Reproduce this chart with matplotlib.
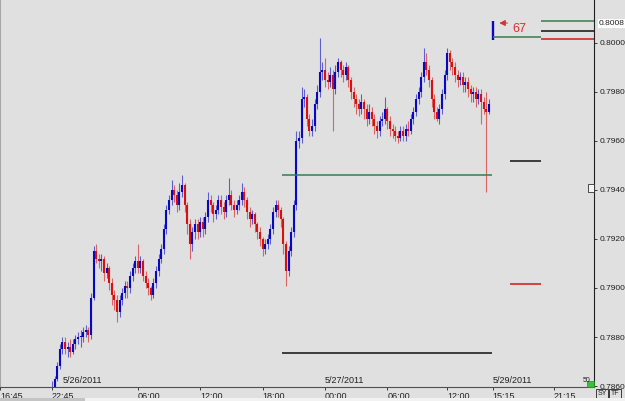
import matplotlib
matplotlib.use("Agg")
import matplotlib.pyplot as plt
import matplotlib.transforms as mtransforms
from matplotlib.patches import Rectangle

# ---------------- data (15-minute bars) ----------------
opens = [0.7856, 0.7859, 0.7863, 0.7868, 0.7875, 0.7878, 0.7875, 0.7876, 0.7874, 0.7877,
         0.7879, 0.7880, 0.7880, 0.7882, 0.7883, 0.7881, 0.7896, 0.7915, 0.7912, 0.7911,
         0.7912, 0.7906, 0.7908, 0.7902, 0.7897, 0.7895, 0.7890, 0.7895, 0.7898, 0.7901,
         0.7900, 0.7905, 0.7908, 0.7911, 0.7908, 0.7911, 0.7905, 0.7902, 0.7900, 0.7897,
         0.7902, 0.7907, 0.7912, 0.7916, 0.7924, 0.7932, 0.7936, 0.7940, 0.7938, 0.7934,
         0.7939, 0.7942, 0.7934, 0.7926, 0.7918, 0.7923, 0.7926, 0.7923, 0.7927, 0.7924,
         0.7929, 0.7936, 0.7934, 0.7930, 0.7932, 0.7936, 0.7933, 0.7931, 0.7936, 0.7938,
         0.7934, 0.7932, 0.7934, 0.7936, 0.7939, 0.7936, 0.7931, 0.7928, 0.7930, 0.7926,
         0.7923, 0.7920, 0.7916, 0.7918, 0.7920, 0.7924, 0.7931, 0.7934, 0.7932, 0.7928,
         0.7918, 0.7907, 0.7915, 0.7923, 0.7934, 0.7960, 0.7961, 0.7977, 0.7978, 0.7969,
         0.7964, 0.7966, 0.7975, 0.7980, 0.7988, 0.7989, 0.7985, 0.7984, 0.7987, 0.7981,
         0.7988, 0.7992, 0.7989, 0.7987, 0.7990, 0.7985, 0.7980, 0.7977, 0.7975, 0.7973,
         0.7976, 0.7973, 0.7969, 0.7972, 0.7969, 0.7966, 0.7964, 0.7968, 0.7969, 0.7973,
         0.7968, 0.7965, 0.7964, 0.7962, 0.7961, 0.7964, 0.7962, 0.7965, 0.7964, 0.7969,
         0.7972, 0.7977, 0.7980, 0.7986, 0.7992, 0.7989, 0.7985, 0.7977, 0.7972, 0.7969,
         0.7973, 0.7979, 0.7987, 0.7996, 0.7992, 0.7990, 0.7987, 0.7985, 0.7986, 0.7983,
         0.7984, 0.7981, 0.7979, 0.7980, 0.7977, 0.7979, 0.7976, 0.7973, 0.7972]
highs = [0.7862, 0.7864, 0.7870, 0.7877, 0.7880, 0.7880, 0.7878, 0.7879, 0.7879, 0.7881,
         0.7882, 0.7883, 0.7884, 0.7885, 0.7884, 0.7898, 0.7917, 0.7918, 0.7914, 0.7914,
         0.7913, 0.7910, 0.7909, 0.7904, 0.7899, 0.7897, 0.7897, 0.7900, 0.7903, 0.7903,
         0.7907, 0.7910, 0.7913, 0.7918, 0.7913, 0.7912, 0.7907, 0.7904, 0.7901, 0.7904,
         0.7909, 0.7914, 0.7918, 0.7926, 0.7934, 0.7938, 0.7944, 0.7942, 0.7940, 0.7943,
         0.7946, 0.7943, 0.7935, 0.7928, 0.7925, 0.7928, 0.7928, 0.7929, 0.7929, 0.7931,
         0.7939, 0.7938, 0.7935, 0.7934, 0.7938, 0.7938, 0.7935, 0.7938, 0.7945, 0.7940,
         0.7936, 0.7936, 0.7938, 0.7943, 0.7941, 0.7937, 0.7933, 0.7932, 0.7931, 0.7927,
         0.7925, 0.7921, 0.7920, 0.7922, 0.7926, 0.7933, 0.7936, 0.7936, 0.7933, 0.7929,
         0.7919, 0.7917, 0.7925, 0.7936, 0.7964, 0.7964, 0.7982, 0.7981, 0.7979, 0.7971,
         0.7969, 0.7977, 0.7983, 0.8002, 0.7992, 0.7994, 0.7988, 0.7990, 0.7989, 0.7991,
         0.7994, 0.7993, 0.7991, 0.7992, 0.7991, 0.7986, 0.7982, 0.7979, 0.7977, 0.7979,
         0.7977, 0.7975, 0.7975, 0.7974, 0.7971, 0.7968, 0.7970, 0.7972, 0.7978, 0.7974,
         0.7970, 0.7967, 0.7966, 0.7964, 0.7966, 0.7966, 0.7967, 0.7968, 0.7971, 0.7974,
         0.7979, 0.7982, 0.7988, 0.7998, 0.7996, 0.7991, 0.7986, 0.7979, 0.7974, 0.7975,
         0.7981, 0.7989, 0.7998, 0.7997, 0.7994, 0.7992, 0.7989, 0.7988, 0.7988, 0.7986,
         0.7986, 0.7983, 0.7982, 0.7982, 0.7981, 0.7981, 0.7978, 0.7980, 0.7977]
lows = [0.7850, 0.7857, 0.7862, 0.7867, 0.7873, 0.7873, 0.7872, 0.7872, 0.7873, 0.7875,
        0.7877, 0.7876, 0.7878, 0.7880, 0.7878, 0.7879, 0.7895, 0.7910, 0.7908, 0.7907,
        0.7903, 0.7904, 0.7899, 0.7893, 0.7891, 0.7886, 0.7888, 0.7893, 0.7896, 0.7896,
        0.7898, 0.7903, 0.7906, 0.7906, 0.7906, 0.7903, 0.7900, 0.7897, 0.7895, 0.7896,
        0.7900, 0.7905, 0.7910, 0.7914, 0.7922, 0.7930, 0.7934, 0.7935, 0.7931, 0.7932,
        0.7937, 0.7931, 0.7922, 0.7912, 0.7915, 0.7920, 0.7920, 0.7921, 0.7921, 0.7922,
        0.7927, 0.7931, 0.7927, 0.7928, 0.7930, 0.7930, 0.7928, 0.7929, 0.7934, 0.7932,
        0.7929, 0.7930, 0.7932, 0.7934, 0.7933, 0.7928, 0.7925, 0.7926, 0.7923, 0.7920,
        0.7917, 0.7913, 0.7914, 0.7916, 0.7918, 0.7922, 0.7929, 0.7929, 0.7925, 0.7914,
        0.7901, 0.7905, 0.7913, 0.7921, 0.7932, 0.7957, 0.7959, 0.7974, 0.7966, 0.7962,
        0.7962, 0.7964, 0.7973, 0.7978, 0.7985, 0.7982, 0.7981, 0.7982, 0.7964, 0.7979,
        0.7986, 0.7986, 0.7984, 0.7985, 0.7982, 0.7977, 0.7974, 0.7971, 0.7970, 0.7971,
        0.7969, 0.7966, 0.7967, 0.7966, 0.7963, 0.7961, 0.7962, 0.7966, 0.7967, 0.7965,
        0.7962, 0.7961, 0.7960, 0.7959, 0.7960, 0.7960, 0.7960, 0.7962, 0.7963, 0.7967,
        0.7970, 0.7975, 0.7978, 0.7984, 0.7987, 0.7982, 0.7974, 0.7969, 0.7968, 0.7967,
        0.7971, 0.7977, 0.7985, 0.7989, 0.7987, 0.7984, 0.7982, 0.7983, 0.7980, 0.7980,
        0.7978, 0.7976, 0.7976, 0.7974, 0.7975, 0.7967, 0.7971, 0.7939, 0.7971]
closes = [0.7859, 0.7863, 0.7868, 0.7875, 0.7878, 0.7875, 0.7876, 0.7874, 0.7877, 0.7879,
          0.7880, 0.7880, 0.7882, 0.7883, 0.7881, 0.7896, 0.7915, 0.7912, 0.7911, 0.7912,
          0.7906, 0.7908, 0.7902, 0.7897, 0.7895, 0.7890, 0.7895, 0.7898, 0.7901, 0.7900,
          0.7905, 0.7908, 0.7911, 0.7908, 0.7911, 0.7905, 0.7902, 0.7900, 0.7897, 0.7902,
          0.7907, 0.7912, 0.7916, 0.7924, 0.7932, 0.7936, 0.7940, 0.7938, 0.7934, 0.7939,
          0.7942, 0.7934, 0.7926, 0.7918, 0.7923, 0.7926, 0.7923, 0.7927, 0.7924, 0.7929,
          0.7936, 0.7934, 0.7930, 0.7932, 0.7936, 0.7933, 0.7931, 0.7936, 0.7938, 0.7934,
          0.7932, 0.7934, 0.7936, 0.7939, 0.7936, 0.7931, 0.7928, 0.7930, 0.7926, 0.7923,
          0.7920, 0.7916, 0.7918, 0.7920, 0.7924, 0.7931, 0.7934, 0.7932, 0.7928, 0.7918,
          0.7907, 0.7915, 0.7923, 0.7934, 0.7960, 0.7961, 0.7977, 0.7978, 0.7969, 0.7964,
          0.7966, 0.7975, 0.7980, 0.7988, 0.7989, 0.7985, 0.7984, 0.7987, 0.7981, 0.7988,
          0.7992, 0.7989, 0.7987, 0.7990, 0.7985, 0.7980, 0.7977, 0.7975, 0.7973, 0.7976,
          0.7973, 0.7969, 0.7972, 0.7969, 0.7966, 0.7964, 0.7968, 0.7969, 0.7973, 0.7968,
          0.7965, 0.7964, 0.7962, 0.7961, 0.7964, 0.7962, 0.7965, 0.7964, 0.7969, 0.7972,
          0.7977, 0.7980, 0.7986, 0.7992, 0.7989, 0.7985, 0.7977, 0.7972, 0.7969, 0.7973,
          0.7979, 0.7987, 0.7996, 0.7992, 0.7990, 0.7987, 0.7985, 0.7986, 0.7983, 0.7984,
          0.7981, 0.7979, 0.7980, 0.7977, 0.7979, 0.7976, 0.7973, 0.7972, 0.7975]

# first bar of the new week (5/29 15:15)
new_week_index = 169.5
new_week_ohlc = [0.8002, 0.8009, 0.8001, 0.8008]

time_tick_pos = [-20, 0, 33, 57, 81, 105, 129, 152, 169.5, 193]
time_tick_labels = ["16:45", "22:45", "06:00", "12:00", "18:00", "00:00",
                    "06:00", "12:00", "15:15", "21:15"]
date_pos = [4, 105, 169.5]
date_labels = ["5/26/2011", "5/27/2011", "5/29/2011"]
price_ticks = [0.7860, 0.7880, 0.7900, 0.7920, 0.7940, 0.7960, 0.7980, 0.8000]
current_price = 0.8008

# horizontal levels: price, start bar, end bar, colour
level_prices = [0.7946, 0.78735, 0.7952, 0.79015, 0.8009, 0.8005, 0.80016, 0.80025]
level_starts = [88.5, 88.5, 176.2, 176.2, 188.1, 188.1, 188.1, 169.6]
level_ends = [169.2, 169.2, 188.1, 188.1, 209, 209, 209, 188.1]
level_colors = ["#2f7f4f", "#101010", "#101010", "#d01818",
                "#2f7f4f", "#101010", "#d01818", "#2f7f4f"]
pip_label = "67"

# ---------------- figure ----------------
W, H = 625, 401
BG = "#e0e0e0"
plt.rcParams["font.family"] = ["Liberation Sans", "DejaVu Sans"]
fig = plt.figure(figsize=(W / 100, H / 100), dpi=100, facecolor=BG)
ax = fig.add_axes([0, 14 / H, 594 / W, 387 / H], facecolor=BG)

UP = "#0808c0"
DN = "#d81010"
for i in range(len(closes)):
    o, h, l, c = opens[i], highs[i], lows[i], closes[i]
    col = UP if c >= o else DN
    ax.vlines(i, l, h, color=col, lw=0.8, alpha=0.6)
    lo, hi = min(o, c), max(o, c)
    if hi - lo < 0.00004:
        hi = lo + 0.00004
    ax.vlines(i, lo, hi, color=col, lw=1.5)

o, h, l, c = new_week_ohlc
ax.vlines(new_week_index, l, h, color=UP, lw=1.7)

for p, x0, x1, col in zip(level_prices, level_starts, level_ends, level_colors):
    ax.hlines(p, x0, x1, color=col, lw=1.1, clip_on=False)

# arrow + pip count
ax.annotate("", xy=(171.0, 0.80081), xytext=(176.3, 0.80081),
            arrowprops=dict(arrowstyle="-|>,head_length=0.35,head_width=0.18",
                        color="#d83030", lw=0.7))
ax.text(177.0, 0.80058, pip_label, color="#d83030", fontsize=9,
        ha="left", va="center", fontweight="light")

ax.set_xlim(-20, 208.46)
ax.set_ylim(0.78596, 0.80175)

ax.spines["top"].set_visible(False)
ax.spines["left"].set_color("#a8a8a8")
ax.spines["left"].set_linewidth(0.8)
ax.spines["right"].set_color("#202020")
ax.spines["right"].set_linewidth(0.8)
ax.spines["bottom"].set_color("#505050")
ax.spines["bottom"].set_linewidth(0.8)

ax.yaxis.tick_right()
ax.set_yticks(price_ticks)
ax.set_yticklabels([f"{p:.4f}" for p in price_ticks])
ax.tick_params(axis="y", length=2.5, width=0.6, pad=1.5, labelsize=6.0,
               colors="#202020")

ax.set_xticks(time_tick_pos)
ax.set_xticklabels(time_tick_labels)
for lab in ax.get_xticklabels():
    lab.set_ha("left")
ax.tick_params(axis="x", length=2.5, width=0.6, pad=1.2, labelsize=6.5,
               colors="#202020")

trans = mtransforms.blended_transform_factory(ax.transData, ax.transAxes)
for p, lab in zip(date_pos, date_labels):
    ax.text(p, 0.005, lab, transform=trans, fontsize=6.5, ha="left",
            va="bottom", color="#202020")

# current price label box
transy = mtransforms.blended_transform_factory(ax.transAxes, ax.transData)
ax.text(1.0085, current_price, f"{current_price:.4f}", transform=transy,
        fontsize=6.0, ha="left", va="center", color="#202020",
        bbox=dict(facecolor="white", edgecolor="none", pad=0.8), clip_on=False)

# small widgets drawn in figure pixel coordinates
def fig_rect(x, y, w, h, **kw):
    fig.patches.append(Rectangle((x / W, 1 - (y + h) / H), w / W, h / H,
                                 transform=fig.transFigure, **kw))

fig_rect(588, 184, 6, 8, facecolor="#f4f4f4", edgecolor="#303030", lw=0.6)
fig_rect(587, 381, 7, 6, facecolor="#3cc03c", edgecolor="#209020", lw=0.5)
fig.text(583 / W, 1 - 381 / H, "50", fontsize=5, color="#202020", ha="left",
         va="center")
fig_rect(596, 389, 12, 9, facecolor=BG, edgecolor="#202020", lw=0.6)
fig_rect(609, 389, 12, 9, facecolor=BG, edgecolor="#202020", lw=0.6)
fig.text(602 / W, 1 - 393.5 / H, "SY", fontsize=5, ha="center", va="center",
         color="#202020")
fig.text(615 / W, 1 - 393.5 / H, "TF", fontsize=5, ha="center", va="center",
         color="#202020")
fig_rect(0, 398, 625, 3, facecolor="#f2f2f2", edgecolor="none")
fig_rect(0, 398, 85, 3, facecolor="#c4c4c4", edgecolor="none")

fig.savefig("out.png", dpi=100, facecolor=BG)
